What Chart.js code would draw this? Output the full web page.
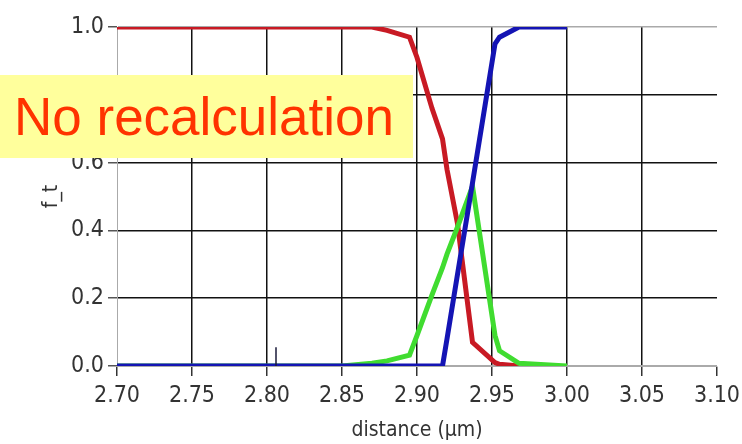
<!DOCTYPE html>
<html>
<head>
<meta charset="utf-8">
<script src="https://cdn.jsdelivr.net/npm/chart.js@4"></script>
<style>
  body { margin: 0; background: #fff; }
  #wrap { position: relative; width: 742px; height: 444px; }
  #note {
    position: absolute; left: 0; top: 75px; width: 413px; height: 83px;
    background: #ffff9c; color: #ff3300;
    font-family: "Liberation Sans", Arial, sans-serif; font-size: 53px;
    line-height: 83px; padding-left: 14px; box-sizing: border-box; white-space: nowrap;
  }
</style>
</head>
<body>
<div id="wrap">
  <canvas id="chart" width="742" height="444"></canvas>
  <div id="note">No recalculation</div>
</div>
<script>
// distance sample points (µm)
const distance = [2.70, 2.80, 2.85, 2.87, 2.88, 2.895, 2.90, 2.91, 2.917, 2.92, 2.927, 2.937, 2.952, 2.955, 2.968, 3.00];

// f_t of each phase
const redVals   = [1, 1, 1, 1, 0.99, 0.97, 0.91, 0.76, 0.67, 0.58, 0.42, 0.07, 0.01, 0.005, 0, null];
const greenVals = [0, 0, 0, 0.008, 0.015, 0.032, 0.09, 0.21, 0.29, 0.33, 0.41, 0.53, 0.09, 0.045, 0.008, 0];
const blueVals  = [0, 0, 0, 0, 0, 0, 0, 0, 0, 0.08, 0.27, 0.54, 0.95, 0.97, 1, 1];

// little cursor mark near the bottom
const cursorX = [2.806, 2.806];
const cursorY = [0, 0.055];

const xTicks = [2.70, 2.75, 2.80, 2.85, 2.90, 2.95, 3.00, 3.05, 3.10];
const yTicks = [0, 0.2, 0.4, 0.6, 0.8, 1.0];

function pts(xs, ys) {
  return xs.map((x, i) => ({x: x, y: ys[i]}));
}

const fam = "'Liberation Sans Narrow', 'Arial Narrow', 'DejaVu Sans Condensed', sans-serif";
const font = {family: fam, size: 23};
const titleFont = {family: fam, size: 21};

const ctx = document.getElementById("chart");
new Chart(ctx, {
  type: "line",
  data: {
    datasets: [
      {data: pts(cursorX, cursorY), borderColor: "#1a1a3a", borderWidth: 1.5, pointRadius: 0, order: 0},
      {data: pts(distance, blueVals), borderColor: "#1414b4", borderWidth: 5, pointRadius: 0, order: 1},
      {data: pts(distance, greenVals), borderColor: "#40dc30", borderWidth: 5, pointRadius: 0, order: 2},
      {data: pts(distance, redVals), borderColor: "#c81a24", borderWidth: 5, pointRadius: 0, order: 3}
    ]
  },
  options: {
    responsive: false,
    animation: false,
    layout: {padding: {left: 33, top: 27, right: 0, bottom: 0}},
    plugins: {legend: {display: false}, tooltip: {enabled: false}},
    scales: {
      x: {
        type: "linear", min: 2.70, max: 3.10,
        afterBuildTicks: (axis) => { axis.ticks = xTicks.map(v => ({value: v})); },
        afterFit: (axis) => { axis.height = 78; axis.paddingRight = 25; axis.paddingLeft = 0; },
        ticks: {font: font, color: "#333", padding: 6, callback: (v) => v.toFixed(2), maxRotation: 0},
        grid: {
          color: (c) => (c.tick && (c.tick.value === 2.70 || c.tick.value === 3.10)) ? "rgba(0,0,0,0)" : "#111",
          tickColor: "#333", tickLength: 10, lineWidth: 1.5
        },
        border: {color: "#aaa", width: 1},
        title: {display: true, text: "distance (µm)", font: titleFont, color: "#333", padding: {top: 0, bottom: 1}}
      },
      y: {
        min: 0, max: 1,
        afterBuildTicks: (axis) => { axis.ticks = yTicks.map(v => ({value: v})); },
        afterFit: (axis) => { axis.width = 84; },
        ticks: {font: font, color: "#333", padding: 4, callback: (v) => v.toFixed(1)},
        grid: {
          color: (c) => (c.tick && (c.tick.value === 0 || c.tick.value === 1)) ? "#aaa" : "#111",
          tickColor: "#555", tickLength: 9, lineWidth: 1.5
        },
        border: {color: "#aaa", width: 1},
        title: {display: true, text: "f_t", font: titleFont, color: "#333", padding: {top: 6, bottom: 0}}
      }
    }
  }
});
</script>
</body>
</html>
